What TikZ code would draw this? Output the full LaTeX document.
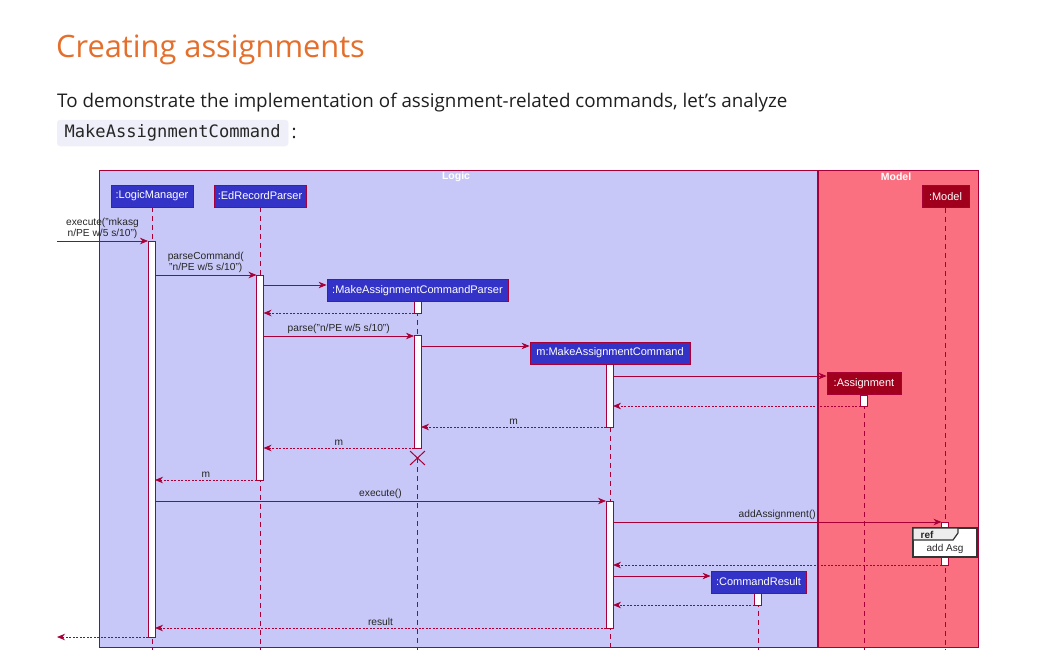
\documentclass[tikz,border=0pt]{standalone}
\usepackage{fontspec}
\setmainfont{Liberation Sans}
\newfontfamily\pagefont{Open Sans}
\newfontfamily\codefont{DejaVu Sans Mono}
\usetikzlibrary{arrows.meta}
\definecolor{crim}{HTML}{A80036}
\definecolor{lavender}{HTML}{C8C8F8}
\definecolor{salmon}{HTML}{FB7080}
\definecolor{partblue}{HTML}{3333C8}
\definecolor{partred}{HTML}{A0001C}
\definecolor{titleorange}{HTML}{E46E2A}
\definecolor{codebg}{HTML}{EFEFFA}
\tikzset{
  frame/.style={draw=crim, line width=0.8pt},
  part/.style={draw=crim, line width=0.8pt, fill=partblue, text=white,
    font=\fontsize{11}{13}\selectfont, inner sep=0pt, minimum height=22pt},
  redpart/.style={part, fill=partred},
  life/.style={draw=crim, line width=0.8pt, dash pattern=on 5pt off 4pt},
  act/.style={draw=crim, line width=0.8pt, fill=white, inner sep=0pt, outer sep=0pt, minimum width=7pt},
  msg/.style={draw=crim, line width=0.8pt, -{Stealth[length=8pt,width=6.5pt,inset=2.5pt]}},
  ret/.style={msg, dash pattern=on 2pt off 1.5pt},
  lab/.style={font=\fontsize{10.2}{11}\selectfont, text=black!85, inner sep=0pt, above=2pt, midway},
  hdr/.style={font=\bfseries\fontsize{10.5}{12}\selectfont, text=white}
}
\begin{document}
\begin{tikzpicture}[x=1pt,y=-1pt]
\useasboundingbox (0,0) rectangle (1039,667);
\fill[white] (0,0) rectangle (1039,667);

% page text
\node[anchor=base west, inner sep=0pt, text=titleorange, font=\pagefont\fontsize{30.8}{34}\selectfont] (title) at (56,57) {Creating assignments};
\node[anchor=base west, inner sep=0pt, text=black!88, font=\pagefont\fontsize{18.8}{22}\selectfont] (body) at (57,107) {To demonstrate the implementation of assignment-related commands, let’s analyze};
\node[anchor=west, fill=codebg, draw=codebg!80!black!20, rounded corners=3pt, minimum height=26pt, minimum width=231pt, inner sep=0pt, text=black!85, font=\codefont\fontsize{17.1}{20}\selectfont] (code) at (57,133) {MakeAssignmentCommand};
\node[anchor=west, inner sep=0pt, text=black!88, font=\pagefont\fontsize{18.8}{22}\selectfont] (colon) at (code.east) {\,:};

% frames
\draw[frame, fill=lavender] (99,170) rectangle (817,647);
\draw[frame, fill=salmon] (818,170) rectangle (978,647);
\node[hdr] (logich) at (456,177) {Logic};
\node[hdr] (modelh) at (896,177) {Model};

% participants
\node[part, minimum width=82pt] (lm) at (152,196) {:LogicManager};
\node[part, minimum width=92pt] (er) at (260,196) {:EdRecordParser};
\node[part, minimum width=181pt] (mp) at (417.5,290.5) {:MakeAssignmentCommandParser};
\node[part, minimum width=160pt] (mc) at (610,353) {m:MakeAssignmentCommand};
\node[redpart, minimum width=74pt] (as) at (864,383.5) {:Assignment};
\node[redpart, minimum width=47pt] (mo) at (945.5,196.5) {:Model};
\node[part, minimum width=95pt] (cr) at (758.5,582) {:CommandResult};

% lifelines
\coordinate (bot) at (0,650);
\draw[life] (lm.south) -- (lm.south |- bot);
\draw[life] (er.south) -- (er.south |- bot);
\draw[life] (mp.south) -- (mp.south |- 0,448);
\draw[life] (417.5,458) -- (417.5,650);
\draw[life] (mc.south) -- (mc.south |- bot);
\draw[life] (as.south) -- (as.south |- bot);
\draw[life] (mo.south) -- (mo.south |- bot);
\draw[life] (cr.south) -- (cr.south |- bot);

% activation bars
\node[act, minimum height=396pt] (lmA) at (151.5,439) {};
\node[act, minimum height=205pt] (erA) at (260,377.5) {};
\node[act, minimum height=12pt] (mpA1) at (417.5,307) {};
\node[act, minimum height=113pt] (mpA2) at (417.5,391.5) {};
\node[act, minimum height=63pt] (mcA1) at (609.5,395.5) {};
\node[act, minimum height=127pt] (mcA2) at (609.5,564.5) {};
\node[act, minimum height=11pt] (asA) at (864,400.5) {};
\node[act, minimum height=43pt] (moA) at (945,543.5) {};
\node[act, minimum height=12pt] (crA) at (758,599) {};

% messages
\coordinate (inL) at (57,241);
\coordinate (outL) at (57,637);
\draw[msg] (inL) -- (lmA.west |- inL) node[lab, align=center] {execute("mkasg\\ n/PE w/5 s/10")};
\draw[msg] (lmA.east |- 0,275) -- (erA.west |- 0,275) node[lab, align=center] {parseCommand(\\"n/PE w/5 s/10")};
\draw[msg] (erA.east |- 0,285) -- (mp.west |- 0,285);
\draw[ret] (mpA1.west |- 0,313) -- (erA.east |- 0,313);
\draw[msg] (erA.east |- 0,336) -- (mpA2.west |- 0,336) node[lab] {parse("n/PE w/5 s/10")};
\draw[msg] (mpA2.east |- 0,346) -- (mc.west |- 0,346);
\draw[msg] (mcA1.east |- 0,376) -- (as.west |- 0,376);
\draw[ret] (asA.west |- 0,406) -- (mcA1.east |- 0,406);
\draw[ret] (mcA1.west |- 0,427) -- (mpA2.east |- 0,427) node[lab] {m};
\draw[ret] (mpA2.west |- 0,448) -- (erA.east |- 0,448) node[lab] {m};
\draw[ret] (erA.west |- 0,480) -- (lmA.east |- 0,480) node[lab] {m};
\draw[msg] (lmA.east |- 0,501) -- (mcA2.west |- 0,501) node[lab] {execute()};
\draw[msg] (mcA2.east |- 0,522) -- (moA.west |- 0,522) node[lab] {addAssignment()};
\draw[ret] (moA.west |- 0,565) -- (mcA2.east |- 0,565);
\draw[msg] (mcA2.east |- 0,576) -- (cr.west |- 0,576);
\draw[ret] (crA.west |- 0,605) -- (mcA2.east |- 0,605);
\draw[ret] (mcA2.west |- 0,628) -- (lmA.east |- 0,628) node[lab] {result};
\draw[ret] (lmA.west |- outL) -- (outL);

% destroy
\draw[crim, line width=1pt] (410,451) -- (425,465) (410,465) -- (425,451);

% ref box
\draw[fill=white, draw=black!80, line width=1.2pt] (913,528) rectangle (977,557);
\draw[fill=black!7, draw=black!80, line width=1.2pt] (913,528) -- (958,528) -- (958,533) -- (953,540) -- (913,540) -- cycle;
\node[font=\bfseries\fontsize{10}{11}\selectfont, inner sep=0pt, text=black!85] (reft) at (927,534.5) {ref};
\node[font=\fontsize{10}{11}\selectfont, inner sep=0pt, text=black!85] (refb) at (945,549) {add Asg};
\end{tikzpicture}
\end{document}
